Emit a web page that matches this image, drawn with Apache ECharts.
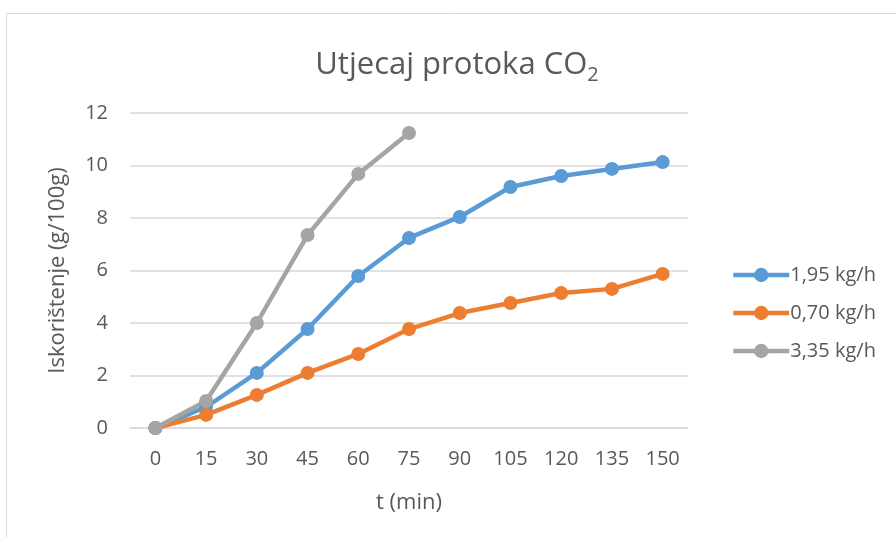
<!DOCTYPE html>
<html><head><meta charset="utf-8">
<script src="https://cdn.jsdelivr.net/npm/echarts@6/dist/echarts.min.js"></script>
<style>html,body{margin:0;padding:0;background:#fff}#c{width:896px;height:537px}</style>
</head><body><div id="c"></div>
<script>
const categories = ['0','15','30','45','60','75','90','105','120','135','150'];
const s195 = [0, 0.8, 2.1, 3.77, 5.79, 7.24, 8.04, 9.18, 9.6, 9.87, 10.13];
const s070 = [0, 0.5, 1.26, 2.1, 2.82, 3.77, 4.38, 4.76, 5.14, 5.3, 5.87];
const s335 = [0, 1.03, 4.0, 7.35, 9.68, 11.24];
const seriesNames = ['1,95 kg/h', '0,70 kg/h', '3,35 kg/h'];
const colors = ['#5b9bd5', '#ed7d31', '#a5a5a5'];
const font = '"Open Sans", "Noto Sans", sans-serif';
const chart = echarts.init(document.getElementById('c'));
function mk(name, data, color) {
  return { name, type: 'line', data, color, symbol: 'circle', symbolSize: 14,
    lineStyle: { width: 4.5, color }, itemStyle: { color } };
}
chart.setOption({
  animation: false,
  graphic: [{ type: 'rect', shape: { x: 6.5, y: 13.5, width: 900, height: 540 },
    style: { fill: 'none', stroke: '#d9d9d9', lineWidth: 1 } }],
  title: {
    text: 'Utjecaj protoka CO{s|2}', left: 452, top: 40, textAlign: 'center',
    textStyle: { fontFamily: font, fontSize: 31, fontWeight: 'normal', color: '#595959',
      rich: { s: { fontFamily: font, fontSize: 20, color: '#595959', padding: [20, 0, 0, 0] } } }
  },
  legend: {
    orient: 'vertical', left: 726, top: 260, itemGap: 18, itemWidth: 56, itemHeight: 18,
    textStyle: { fontFamily: font, fontSize: 20, color: '#595959', padding: [0,0,0,-4] },
    lineStyle: { width: 4.5 },
    data: seriesNames
  },
  grid: { left: 130, right: 208, top: 113, bottom: 109 },
  xAxis: {
    type: 'category', data: categories, boundaryGap: true,
    name: 't (min)', nameLocation: 'middle', nameGap: 64,
    nameTextStyle: { fontFamily: font, fontSize: 22, color: '#595959' },
    axisLine: { lineStyle: { color: '#d9d9d9', width: 1.5 } }, axisTick: { show: false },
    axisLabel: { fontFamily: font, fontSize: 20, color: '#595959', margin: 21 }
  },
  yAxis: {
    type: 'value', min: 0, max: 12, interval: 2,
    name: 'Iskorištenje (g/100g)', nameLocation: 'middle', nameGap: 61,
    nameTextStyle: { fontFamily: font, fontSize: 22, color: '#595959' },
    axisLine: { show: false }, axisTick: { show: false },
    splitLine: { lineStyle: { color: '#d9d9d9', width: 1.5 } },
    axisLabel: { fontFamily: font, fontSize: 20, color: '#595959', margin: 22 }
  },
  series: [mk(seriesNames[0], s195, colors[0]), mk(seriesNames[1], s070, colors[1]), mk(seriesNames[2], s335, colors[2])]
});
</script></body></html>
